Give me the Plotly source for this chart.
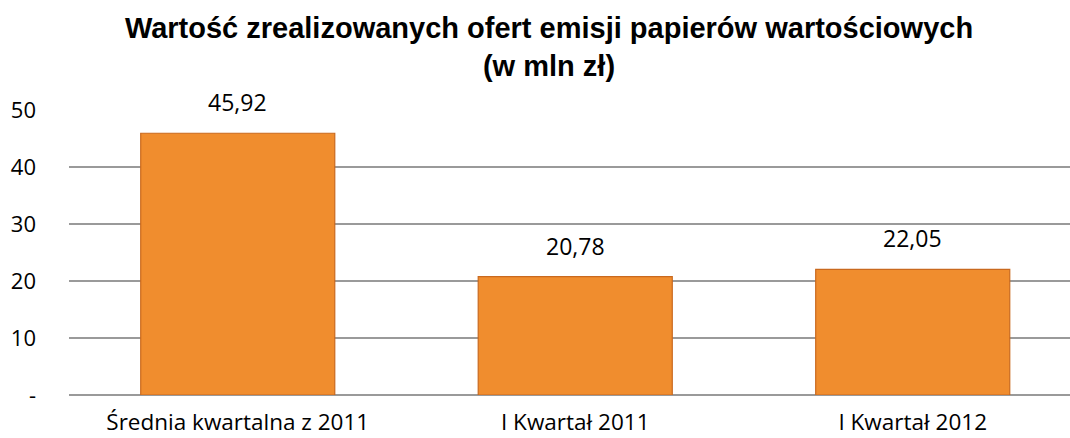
import plotly.graph_objects as go

categories = ["Średnia kwartalna z 2011", "I Kwartał 2011", "I Kwartał 2012"]
values = [45.92, 20.78, 22.05]
value_labels = ["45,92", "20,78", "22,05"]
y_tickvals = [0, 10, 20, 30, 40, 50]
y_ticktext = ["-", "10", "20", "30", "40", "50"]
title_text = "Wartość zrealizowanych ofert emisji papierów wartościowych<br>(w mln zł)"

fig = go.Figure()
fig.add_trace(go.Bar(
    x=categories, y=values, width=0.575,
    marker=dict(color="#F08D2E", line=dict(color="#C9691E", width=1.2)),
    hoverinfo="skip",
))

for c, v, t in zip(categories, values, value_labels):
    fig.add_annotation(x=c, y=v, text=t, showarrow=False, yanchor="bottom",
                       yshift=13, font=dict(family="Open Sans", size=23, color="#000000"))

fig.update_layout(
    width=1070, height=438,
    margin=dict(l=69, r=0, t=110, b=43),
    paper_bgcolor="white", plot_bgcolor="white",
    showlegend=False,
    title=dict(text=title_text, x=549 / 1070, xanchor="center", y=1 - 38 / 438, yanchor="top",
               font=dict(family="Liberation Sans", size=29, color="#000000", weight="bold")),
    xaxis=dict(range=[-0.5, 2.466], showgrid=False, showline=False, ticks="",
               ticklabelstandoff=11, automargin=False,
               tickfont=dict(family="Open Sans", size=22.5, color="#000000")),
    yaxis=dict(range=[0, 50], tickvals=y_tickvals, ticktext=y_ticktext,
               showgrid=True, gridcolor="#9A9A9A", gridwidth=1.5,
               zeroline=True, zerolinecolor="#9A9A9A", zerolinewidth=1.5,
               showline=False, ticks="", ticklabelstandoff=32, automargin=False,
               tickfont=dict(family="Open Sans", size=22, color="#000000")),
)

fig.write_html("out.html", config={"displayModeBar": False},
               post_script="document.body.style.margin='0';")
